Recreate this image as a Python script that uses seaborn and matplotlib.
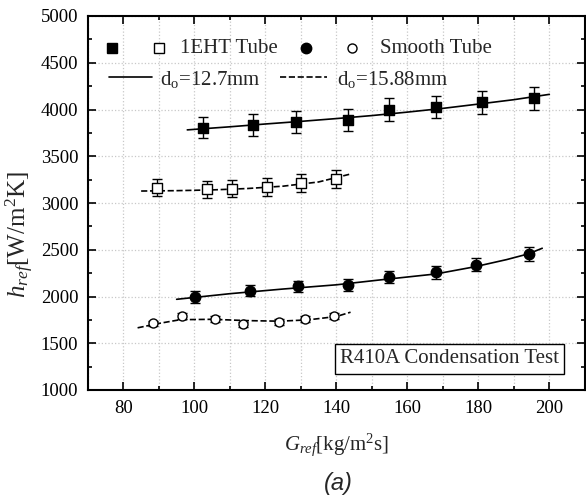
import numpy as np
import pandas as pd
import matplotlib
matplotlib.use("Agg")
import matplotlib.pyplot as plt
from matplotlib.ticker import MultipleLocator
import seaborn as sns

# ---- data ----
eht127_G = [102.5, 116.5, 128.7, 143.2, 154.9, 168.2, 181.0, 195.7]
eht127_h = [3805, 3835, 3870, 3885, 3998, 4028, 4075, 4118]
eht127_err = [115, 115, 116, 117, 120, 121, 122, 124]

eht1588_G = [89.6, 103.6, 110.6, 120.5, 130.0, 139.9]
eht1588_h = [3165, 3145, 3155, 3168, 3210, 3258]
eht1588_err = [95, 94, 95, 95, 96, 98]

sm127_G = [100.2, 115.6, 129.3, 143.2, 154.9, 168.2, 179.4, 194.4]
sm127_h = [1995, 2063, 2108, 2118, 2207, 2257, 2338, 2455]
sm127_err = [60, 62, 63, 64, 66, 68, 70, 74]

sm1588_G = [88.2, 96.5, 105.8, 113.6, 123.7, 131.2, 139.4]
sm1588_h = [1712, 1795, 1762, 1702, 1725, 1758, 1788]
sm1588_err = [30, 32, 31, 30, 31, 31, 32]

# fitted curves
fit_eht127_G = [98, 110, 120, 130, 140, 150, 160, 170, 180, 190, 200]
fit_eht127_h = [3782, 3815, 3845, 3873, 3903, 3935, 3972, 4012, 4058, 4105, 4162]
fit_eht1588_G = [85, 95, 105, 115, 125, 135, 144]
fit_eht1588_h = [3128, 3132, 3140, 3155, 3180, 3225, 3310]
fit_sm127_G = [95, 110, 125, 140, 152, 168, 179, 188, 194, 198]
fit_sm127_h = [1970, 2030, 2080, 2125, 2176, 2241, 2318, 2395, 2455, 2516]
fit_sm1588_G = [84, 90, 96, 105, 115, 124, 132, 140, 144]
fit_sm1588_h = [1665, 1712, 1752, 1756, 1742, 1736, 1750, 1786, 1832]

legend_labels = ["1EHT Tube", "Smooth Tube",
                 r"d$_{\mathrm{o}}$=12.7mm", r"d$_{\mathrm{o}}$=15.88mm"]
note_text = "R410A Condensation Test"

sns.set_theme(style="ticks")
plt.rcParams["font.family"] = ["Liberation Serif", "DejaVu Serif"]
plt.rcParams["mathtext.fontset"] = "custom"
plt.rcParams["mathtext.rm"] = "Liberation Serif"
plt.rcParams["mathtext.it"] = "Liberation Serif:italic"

fig = plt.figure(figsize=(5.86, 5.00), dpi=100)
ax = fig.add_axes([0.150, 0.22, 0.848, 0.748])

# grid
ax.xaxis.set_major_locator(MultipleLocator(20))
ax.xaxis.set_minor_locator(MultipleLocator(10))
ax.yaxis.set_major_locator(MultipleLocator(500))
ax.yaxis.set_minor_locator(MultipleLocator(250))
ax.grid(True, which="both", axis="x", color="#c8c8c8", linestyle=":", linewidth=0.9)
ax.grid(True, which="major", axis="y", color="#c8c8c8", linestyle=":", linewidth=0.9)
ax.set_axisbelow(True)

# fit lines
fits = [
    (fit_eht127_G, fit_eht127_h, "-"),
    (fit_eht1588_G, fit_eht1588_h, "--"),
    (fit_sm127_G, fit_sm127_h, "-"),
    (fit_sm1588_G, fit_sm1588_h, "--"),
]
for g, h, ls in fits:
    d = pd.DataFrame({"G": g, "h": h})
    sns.lineplot(data=d, x="G", y="h", ax=ax, color="black", linewidth=1.2,
                 linestyle=ls, sort=True, estimator=None)

# error bars + markers
series = [
    (eht127_G, eht127_h, eht127_err, "s", "black", 7.5),
    (eht1588_G, eht1588_h, eht1588_err, "s", "white", 6.5),
    (sm127_G, sm127_h, sm127_err, "o", "black", 7.5),
    (sm1588_G, sm1588_h, sm1588_err, "o", "white", 6.5),
]
for g, h, e, m, fc, ms in series:
    ax.errorbar(g, h, yerr=e, fmt="none", ecolor="black", elinewidth=1.0,
                capsize=3.5, capthick=1.0, zorder=3)
    d = pd.DataFrame({"G": g, "h": h})
    sns.scatterplot(data=d, x="G", y="h", ax=ax, marker=m, s=ms ** 2,
                    facecolor=fc, edgecolor="black", linewidth=1.0, zorder=4)

ax.set_xlim(70, 210)
ax.set_ylim(1000, 5000)
ax.set_xlabel("")
ax.set_ylabel("")

ax.tick_params(which="both", direction="in", top=True, right=True,
               labelsize=13.5, width=1.2, colors="black", pad=7)
ax.tick_params(which="major", length=6)
ax.tick_params(which="minor", length=3)
for s in ax.spines.values():
    s.set_linewidth(1.5)
    s.set_color("black")

fig.text(0.574, 0.111, r"$G_{ref}$[kg/m$^2$s]", ha="center", va="center", fontsize=15)
fig.text(0.034, 0.53, r"$h_{ref}$[W/m$^2$K]", ha="center", va="center",
         fontsize=18, rotation=90)
fig.text(0.578, 0.033, "(a)", ha="center", va="center", fontsize=17,
         family=["Liberation Sans", "DejaVu Sans"], style="italic")

# custom two-row legend (axes coordinates)
T = ax.transAxes
kw = dict(transform=T, clip_on=False, linestyle="none", markeredgecolor="black",
          markeredgewidth=1.0, zorder=5)
ax.plot([0.048], [0.914], marker="s", markersize=7, markerfacecolor="black", **kw)
ax.plot([0.143], [0.914], marker="s", markersize=6.5, markerfacecolor="white", **kw)
ax.plot([0.439], [0.914], marker="o", markersize=7.5, markerfacecolor="black", **kw)
ax.plot([0.531], [0.914], marker="o", markersize=6.5, markerfacecolor="white", **kw)
ax.plot([0.042, 0.129], [0.837, 0.837], transform=T, color="black", linewidth=1.2,
        linestyle="-", clip_on=False)
ax.plot([0.386, 0.481], [0.837, 0.837], transform=T, color="black", linewidth=1.2,
        linestyle="--", clip_on=False)
ax.text(0.185, 0.914, legend_labels[0], transform=T, ha="left", va="center", fontsize=15)
ax.text(0.588, 0.914, legend_labels[1], transform=T, ha="left", va="center", fontsize=15)
ax.text(0.145, 0.830, legend_labels[2], transform=T, ha="left", va="center", fontsize=15)
ax.text(0.501, 0.830, legend_labels[3], transform=T, ha="left", va="center", fontsize=15)

ax.text(0.728, 0.083, note_text, transform=T,
        ha="center", va="center", fontsize=15,
        bbox=dict(boxstyle="square,pad=0.25", facecolor="white", edgecolor="black",
                  linewidth=1.0))

fig.savefig("out.png", dpi=100)
